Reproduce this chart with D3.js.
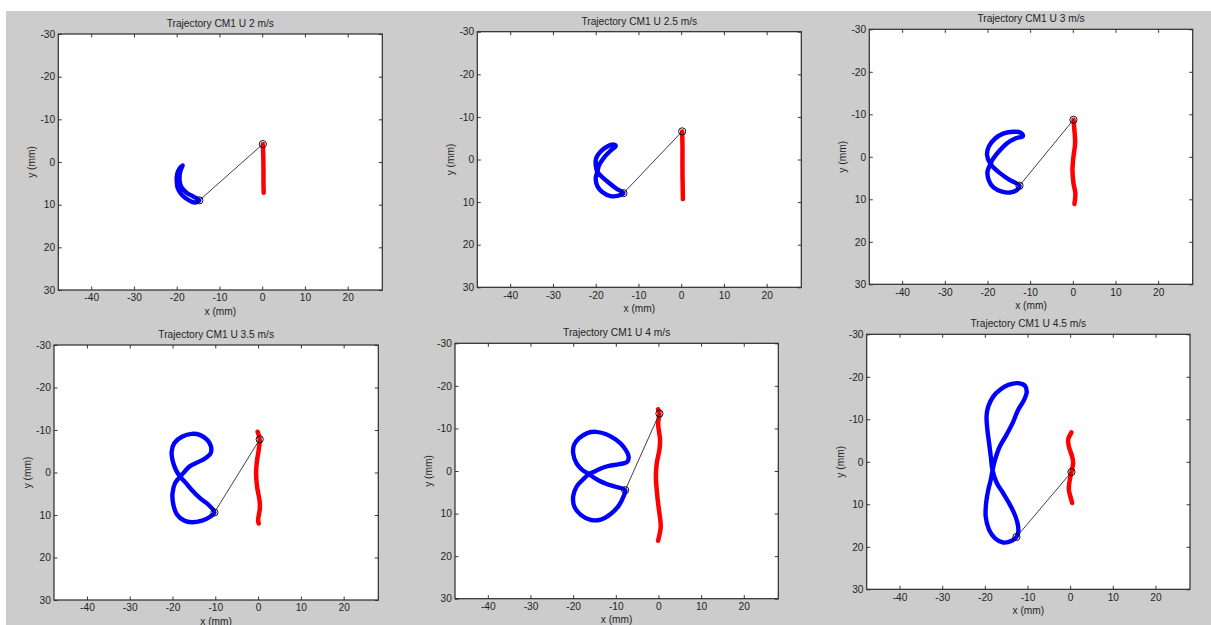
<!DOCTYPE html>
<html>
<head>
<meta charset="utf-8">
<script src="https://cdn.jsdelivr.net/npm/d3@7"></script>
<style>
  html, body { margin: 0; padding: 0; background: #ffffff; }
  svg { display: block; }
  text { font-family: "Liberation Sans", Arial, Helvetica, sans-serif; }
</style>
</head>
<body>
<svg id="fig" width="1211" height="625"></svg>
<script>
// Flow speeds (m/s), one subplot each
const speedsMs = [2, 2.5, 3, 3.5, 4, 4.5];

// Axis limits and ticks (mm); y axis is reversed (-30 at top)
const xLimits = [-47.7, 28.1];
const yLimits = [-30, 30];
const xTicks = [-40, -30, -20, -10, 0, 10, 20];
const yTicks = [-30, -20, -10, 0, 10, 20, 30];

// Blue trajectory (closed figure-eight), [x, y] in mm
const loopU2 = [[-14.7,9.0],[-16.1,8.1],[-17.7,7.2],[-18.9,5.9],[-19.3,4.5],[-19.3,3.0],[-19.0,1.7],[-18.6,0.8],
  [-19.4,1.6],[-19.9,2.9],[-20.0,4.2],[-19.8,6.0],[-18.9,7.6],[-17.3,8.9],[-15.8,9.5]];
const loopU25 = [[-13.5,7.9],[-15.2,6.8],[-17.0,5.4],[-18.5,4.1],[-19.6,2.9],[-20.0,1.3],[-19.9,-0.3],[-18.9,-1.8],
  [-17.4,-3.0],[-15.8,-3.5],[-15.3,-3.2],[-16.6,-2.0],[-18.1,-0.4],[-19.2,1.3],[-19.6,2.9],[-20.0,4.4],[-19.6,6.3],
  [-18.4,7.7],[-16.5,8.6],[-14.7,8.5]];
const loopU3 = [[-12.5,6.8],[-14.7,5.5],[-17.0,3.9],[-19.3,1.7],[-20.1,-0.4],[-19.7,-2.4],[-18.2,-4.3],[-16.2,-5.5],
  [-13.9,-5.9],[-12.3,-5.7],[-11.7,-4.9],[-13.5,-4.3],[-15.4,-3.2],[-17.4,-1.2],[-18.7,0.5],[-19.3,1.7],[-20.0,3.5],
  [-19.7,5.5],[-18.6,7.2],[-16.6,8.2],[-14.7,8.4],[-13.1,7.8]];
const loopU35 = [[-10.2,9.4],[-11.6,7.6],[-13.5,6.1],[-15.5,4.1],[-17.1,2.2],[-18.2,1.0],[-19.2,-0.6],[-20.0,-2.9],
  [-20.2,-4.9],[-19.6,-6.9],[-17.8,-8.4],[-15.5,-9.1],[-13.5,-8.8],[-11.8,-7.6],[-11.0,-6.1],[-11.1,-4.5],[-12.4,-3.3],
  [-13.9,-2.5],[-15.9,-1.5],[-17.2,-0.2],[-18.2,1.0],[-19.4,2.5],[-20.0,4.9],[-19.8,7.6],[-19.0,9.8],[-17.3,11.3],
  [-15.5,11.7],[-13.1,11.3],[-11.2,10.4]];
const loopU4 = [[-7.8,4.5],[-10.0,3.7],[-12.0,3.1],[-13.9,2.3],[-15.5,1.3],[-16.3,0.7],[-17.8,-0.2],[-19.2,-1.8],
  [-20.0,-4.2],[-19.8,-6.1],[-18.6,-7.7],[-16.7,-8.9],[-14.7,-9.2],[-12.4,-8.7],[-10.0,-7.4],[-8.2,-5.7],[-7.0,-3.4],
  [-7.3,-2.2],[-9.2,-1.6],[-11.6,-1.2],[-13.5,-0.6],[-15.1,0.2],[-16.3,0.7],[-17.8,2.1],[-19.2,3.7],[-20.0,6.0],
  [-19.7,8.4],[-18.2,10.3],[-15.9,11.5],[-13.5,11.4],[-11.2,10.1],[-9.2,8.0],[-8.2,6.0]];
const loopU45 = [[-12.6,17.7],[-13.7,18.6],[-15.7,19.0],[-17.6,18.0],[-19.0,16.0],[-19.8,12.9],[-19.7,9.7],[-19.2,6.6],
  [-18.6,4.2],[-18.2,2.0],[-17.6,-0.5],[-16.5,-3.6],[-14.9,-6.4],[-13.5,-9.1],[-12.2,-12.2],[-11.0,-14.2],[-10.2,-16.2],
  [-10.6,-17.9],[-12.2,-18.5],[-14.5,-18.1],[-16.5,-16.9],[-18.0,-15.4],[-19.2,-13.0],[-19.6,-10.7],[-19.4,-7.5],
  [-19.0,-4.4],[-18.6,-1.2],[-18.2,2.0],[-17.2,5.0],[-15.7,7.4],[-13.9,10.5],[-12.8,12.9],[-12.2,15.2],[-12.2,16.8]];

// Red trajectory (open, nearly vertical), [x, y] in mm
const stemU2 = [[0.15,-4.2],[0.25,-1.5],[0.3,1.5],[0.3,4.5],[0.35,7.2]];
const stemU25 = [[0.23,-6.6],[0.3,-3.0],[0.3,0.0],[0.3,3.0],[0.35,6.0],[0.4,9.3]];
const stemU3 = [[0.15,-8.7],[0.3,-7.1],[0.54,-3.2],[0.15,0.0],[-0.08,3.1],[0.15,6.2],[0.6,8.6],[0.37,11.1]];
const stemU35 = [[-0.1,-9.6],[0.38,-7.8],[0.15,-5.3],[-0.24,-2.9],[-0.47,0.2],[-0.24,3.3],[0.38,6.9],[0.38,8.8],
  [0.0,11.2],[0.15,12.0]];
const stemU4 = [[-0.08,-14.5],[0.23,-13.5],[-0.08,-11.2],[0.38,-7.3],[0.23,-5.0],[-0.4,-1.8],[-0.6,1.3],[-0.4,4.5],
  [-0.08,7.6],[0.23,9.9],[0.54,13.1],[0.23,15.0],[-0.08,16.4]];
const stemU45 = [[0.3,-6.9],[-0.47,-5.2],[-0.3,-3.6],[0.47,-1.2],[0.7,0.3],[0.3,2.4],[-0.08,4.2],[-0.3,6.6],
  [0.15,8.5],[0.47,9.7]];

// Current positions joined by a link: [red point, blue point]
const linkU2 = [[0.15,-4.2],[-14.7,9.0]];
const linkU25 = [[0.23,-6.6],[-13.5,7.9]];
const linkU3 = [[0.15,-8.7],[-12.5,6.8]];
const linkU35 = [[0.38,-7.8],[-10.2,9.4]];
const linkU4 = [[0.23,-13.5],[-7.8,4.5]];
const linkU45 = [[0.3,2.4],[-12.6,17.7]];

const loops = [loopU2, loopU25, loopU3, loopU35, loopU4, loopU45];
const stems = [stemU2, stemU25, stemU3, stemU35, stemU4, stemU45];
const links = [linkU2, linkU25, linkU3, linkU35, linkU4, linkU45];

// Placement of each axes box on the figure (pixels)
const panelBoxes = [
  { left: 58.3,  top: 34.0,  width: 324.0, height: 256.0 },
  { left: 477.3, top: 31.7,  width: 324.0, height: 255.6 },
  { left: 869.3, top: 29.3,  width: 323.4, height: 255.0 },
  { left: 54.0,  top: 345.0, width: 324.3, height: 255.0 },
  { left: 455.0, top: 343.3, width: 323.3, height: 255.4 },
  { left: 866.7, top: 334.3, width: 323.3, height: 255.0 }
];

const FONT = 10.2;
const INK = "#1f1f1f";
const plainNumber = d => String(d);   // ASCII hyphen for negatives
const svg = d3.select("#fig");

// figure background
svg.append("rect").attr("x", 0).attr("y", 0).attr("width", 1211).attr("height", 625).attr("fill", "#ffffff");
svg.append("rect").attr("x", 6).attr("y", 11).attr("width", 1205).attr("height", 614).attr("fill", "#cccccc");

speedsMs.forEach((u, i) => {
  const b = panelBoxes[i];
  const x = d3.scaleLinear().domain(xLimits).range([b.left, b.left + b.width]);
  const y = d3.scaleLinear().domain(yLimits).range([b.top, b.top + b.height]);
  const g = svg.append("g");

  g.append("rect")
    .attr("x", b.left).attr("y", b.top).attr("width", b.width).attr("height", b.height)
    .attr("fill", "#ffffff");

  const clipId = "clip" + i;
  svg.append("clipPath").attr("id", clipId).append("rect")
    .attr("x", b.left).attr("y", b.top).attr("width", b.width).attr("height", b.height);

  const data = g.append("g").attr("clip-path", `url(#${clipId})`);

  const loopLine = d3.line().x(d => x(d[0])).y(d => y(d[1])).curve(d3.curveCatmullRomClosed.alpha(0.5));
  const stemLine = d3.line().x(d => x(d[0])).y(d => y(d[1])).curve(d3.curveCatmullRom.alpha(0.5));

  data.append("path").attr("d", loopLine(loops[i]))
    .attr("fill", "none").attr("stroke", "#0000ff").attr("stroke-width", 4.4)
    .attr("stroke-linejoin", "round").attr("stroke-linecap", "round");

  data.append("path").attr("d", stemLine(stems[i]))
    .attr("fill", "none").attr("stroke", "#ff0000").attr("stroke-width", 4.5)
    .attr("stroke-linejoin", "round").attr("stroke-linecap", "round");

  data.append("line")
    .attr("x1", x(links[i][0][0])).attr("y1", y(links[i][0][1]))
    .attr("x2", x(links[i][1][0])).attr("y2", y(links[i][1][1]))
    .attr("stroke", "#2a2a2a").attr("stroke-width", 0.9);

  data.selectAll("circle.end").data(links[i]).enter().append("circle")
    .attr("class", "end")
    .attr("cx", d => x(d[0])).attr("cy", d => y(d[1])).attr("r", 3.6)
    .attr("fill", "none").attr("stroke", "#111111").attr("stroke-width", 1);

  // axes: labelled bottom/left, tick-only top/right, ticks pointing inward
  const styleAxis = sel => {
    sel.select(".domain").remove();
    sel.selectAll(".tick line").attr("stroke", "#3a3a3a").attr("stroke-width", 1);
    sel.selectAll(".tick text").attr("fill", INK).attr("font-size", FONT)
      .attr("font-family", "Liberation Sans, Arial, sans-serif");
  };

  g.append("g").attr("transform", `translate(0,${b.top + b.height})`)
    .call(d3.axisBottom(x).tickValues(xTicks).tickFormat(plainNumber)
      .tickSizeInner(-3.5).tickSizeOuter(0).tickPadding(4.0))
    .call(styleAxis);
  g.append("g").attr("transform", `translate(0,${b.top})`)
    .call(d3.axisTop(x).tickValues(xTicks).tickSizeInner(-3.5).tickSizeOuter(0).tickFormat(""))
    .call(styleAxis);
  g.append("g").attr("transform", `translate(${b.left},0)`)
    .call(d3.axisLeft(y).tickValues(yTicks).tickFormat(plainNumber)
      .tickSizeInner(-3.5).tickSizeOuter(0).tickPadding(3.2))
    .call(styleAxis);
  g.append("g").attr("transform", `translate(${b.left + b.width},0)`)
    .call(d3.axisRight(y).tickValues(yTicks).tickSizeInner(-3.5).tickSizeOuter(0).tickFormat(""))
    .call(styleAxis);

  // axes box
  g.append("rect")
    .attr("x", b.left).attr("y", b.top).attr("width", b.width).attr("height", b.height)
    .attr("fill", "none").attr("stroke", "#2b2b2b").attr("stroke-width", 1.2);

  // title and axis labels
  g.append("text")
    .attr("x", b.left + b.width / 2).attr("y", b.top - 7.2)
    .attr("text-anchor", "middle").attr("font-size", FONT).attr("fill", INK)
    .text(`Trajectory CM1 U ${u} m/s`);

  g.append("text")
    .attr("x", b.left + b.width / 2).attr("y", b.top + b.height + 24.6)
    .attr("text-anchor", "middle").attr("font-size", FONT).attr("fill", INK)
    .text("x (mm)");

  g.append("text")
    .attr("transform", `translate(${b.left - 23},${b.top + b.height / 2}) rotate(-90)`)
    .attr("text-anchor", "middle").attr("font-size", FONT).attr("fill", INK)
    .text("y (mm)");
});
</script>
</body>
</html>
